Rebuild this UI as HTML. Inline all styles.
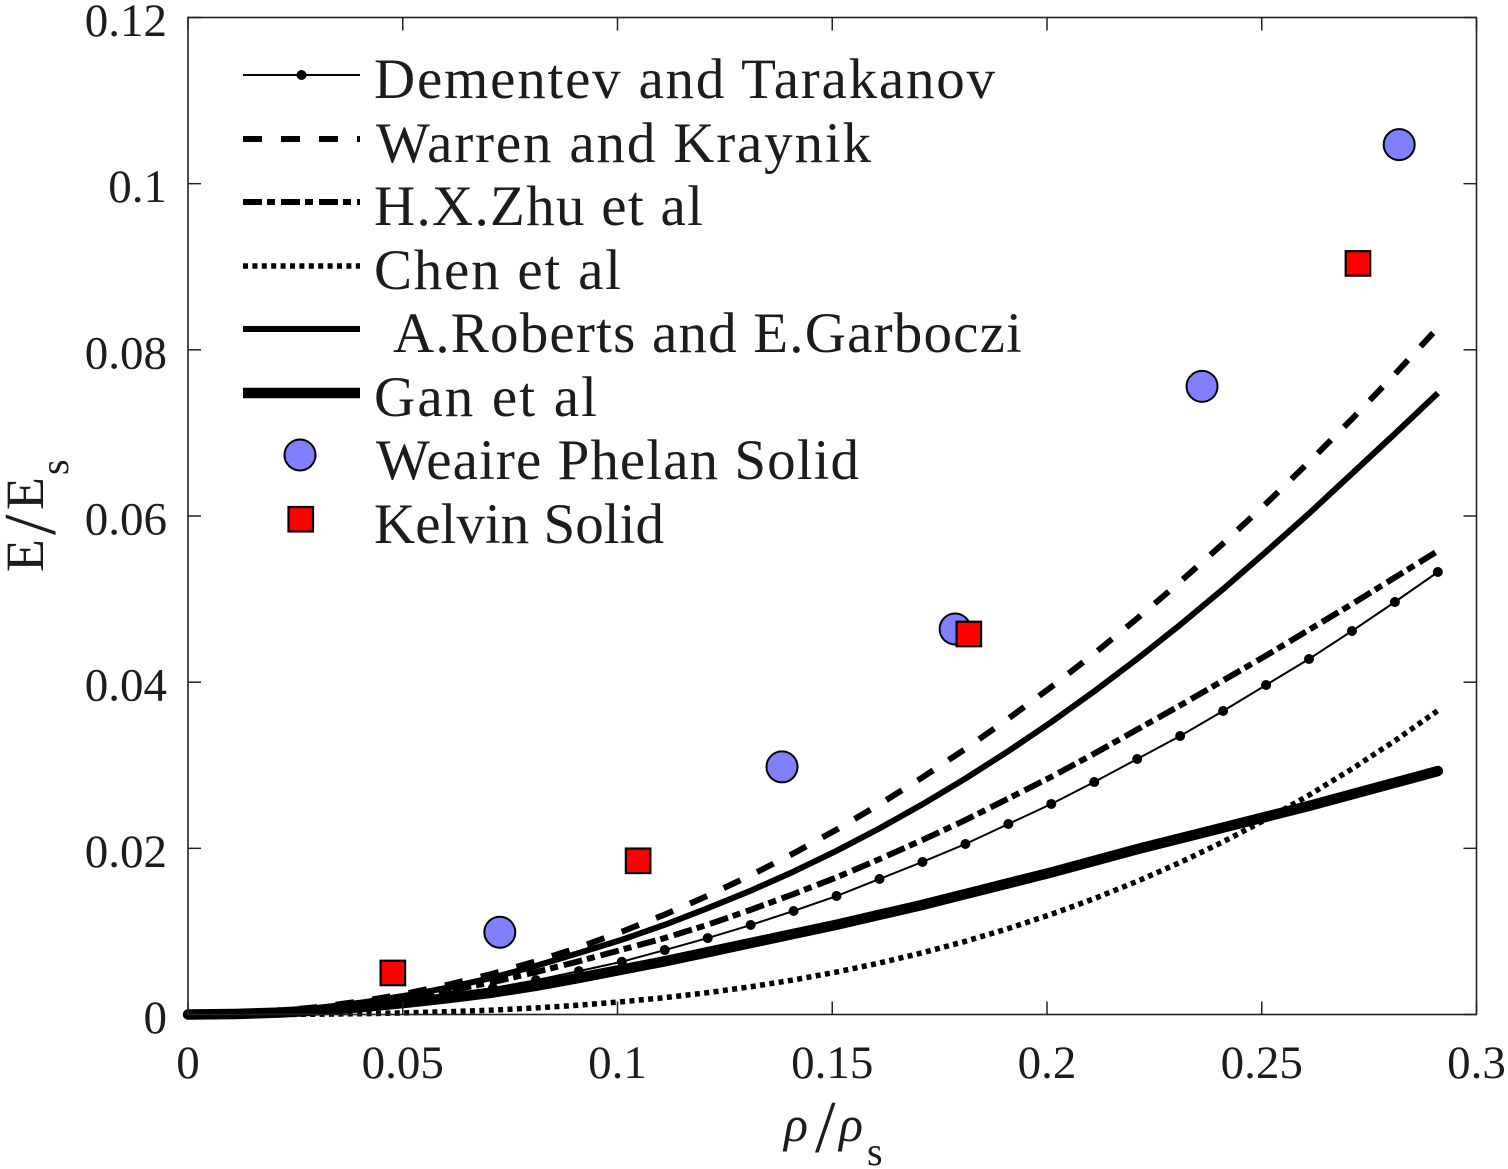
<!DOCTYPE html>
<html lang="en">
<head>
<meta charset="utf-8">
<title>Relative modulus vs relative density</title>
<style>
html,body{margin:0;padding:0;background:#fff;}
svg{display:block;}
text{font-family:"Liberation Serif",serif;fill:#1c1c1c;}
</style>
</head>
<body>
<svg id="chart" xmlns="http://www.w3.org/2000/svg" width="1508" height="1169" viewBox="0 0 1508 1169">
  <rect x="188" y="17.5" width="1288.5" height="997" fill="#fff"/>
  <g id="series-layer"></g>
  <rect x="188" y="17.5" width="1288.5" height="997" fill="none" stroke="#222" stroke-width="1.6"/>
  <g id="tick-layer"></g>

  <g transform="translate(43,572) rotate(-90)">
    <text font-size="54" x="0" y="0">E</text>
    <text font-size="74" x="37" y="12">/</text>
    <text font-size="54" x="62" y="0">E</text>
    <text font-size="40" x="97" y="25">s</text>
  </g>
  <g>
    <text font-size="50" font-style="italic" x="784" y="1141">ρ</text>
    <text font-size="74" x="815" y="1152">/</text>
    <text font-size="50" font-style="italic" x="839" y="1141">ρ</text>
    <text font-size="40" x="867" y="1165">s</text>
  </g>

  <g id="legend">
    <g>
      <line x1="243" x2="360" y1="75" y2="75" stroke="#000" stroke-width="2"/>
      <circle cx="301.5" cy="75" r="5" fill="#000"/>
      <text font-size="57" x="374" y="98" textLength="621">Dementev and Tarakanov</text>
    </g>
    <g>
      <line x1="243" x2="360" y1="139" y2="139" stroke="#000" stroke-width="6" stroke-dasharray="19,19"/>
      <text font-size="57" x="376" y="162" textLength="495">Warren and Kraynik</text>
    </g>
    <g>
      <line x1="243" x2="360" y1="202" y2="202" stroke="#000" stroke-width="6" stroke-dasharray="19,5,8,6"/>
      <text font-size="57" x="374" y="225" textLength="329">H.X.Zhu et al</text>
    </g>
    <g>
      <line x1="243" x2="360" y1="266" y2="266" stroke="#000" stroke-width="5.5" stroke-dasharray="5,4.4"/>
      <text font-size="57" x="374" y="289" textLength="247">Chen et al</text>
    </g>
    <g>
      <line x1="243" x2="360" y1="329" y2="329" stroke="#000" stroke-width="6"/>
      <text font-size="57" x="393" y="352" textLength="629">A.Roberts and E.Garboczi</text>
    </g>
    <g>
      <line x1="243" x2="360" y1="393" y2="393" stroke="#000" stroke-width="10.5"/>
      <text font-size="57" x="374" y="416" textLength="223">Gan et al</text>
    </g>
    <g>
      <circle cx="300" cy="455" r="15.5" fill="#8080ff" stroke="#000" stroke-width="2"/>
      <text font-size="57" x="376" y="479" textLength="483">Weaire Phelan Solid</text>
    </g>
    <g>
      <rect x="288.5" y="507" width="24.5" height="24.5" fill="#ff0000" stroke="#000" stroke-width="2.2"/>
      <text font-size="57" x="374" y="543" textLength="290">Kelvin Solid</text>
    </g>
  </g>
</svg>
<script>
const xTicks = [0, 0.05, 0.1, 0.15, 0.2, 0.25, 0.3];
const xTickLabels = ["0", "0.05", "0.1", "0.15", "0.2", "0.25", "0.3"];
const yTicks = [0, 0.02, 0.04, 0.06, 0.08, 0.1, 0.12];
const yTickLabels = ["0", "0.02", "0.04", "0.06", "0.08", "0.1", "0.12"];

const rho = [0, 0.011, 0.021, 0.031, 0.041, 0.051, 0.061, 0.071, 0.081, 0.091, 0.101, 0.111, 0.121, 0.131, 0.141, 0.151, 0.161, 0.171, 0.181, 0.191, 0.201, 0.211, 0.221, 0.231, 0.241, 0.251, 0.261, 0.271, 0.281, 0.291];
const dementev = [0, 0.00008, 0.00028, 0.00061, 0.00106, 0.00164, 0.00234, 0.00318, 0.00413, 0.00522, 0.00635, 0.00776, 0.0092, 0.01077, 0.01246, 0.01426, 0.01631, 0.01836, 0.02052, 0.02293, 0.02534, 0.02798, 0.03075, 0.03352, 0.03653, 0.03966, 0.04279, 0.04616, 0.04965, 0.05326];
const warren = [0, 0.00012, 0.00043, 0.00094, 0.00164, 0.00254, 0.00363, 0.00492, 0.0064, 0.00808, 0.00996, 0.01203, 0.01429, 0.01675, 0.0194, 0.02225, 0.0253, 0.02854, 0.03197, 0.03561, 0.03943, 0.04345, 0.04767, 0.05208, 0.05669, 0.06149, 0.06649, 0.07168, 0.07707, 0.08265];
const zhu = [0, 0.00009, 0.00034, 0.00075, 0.0013, 0.002, 0.0029, 0.0039, 0.0051, 0.0064, 0.0078, 0.0092, 0.0108, 0.0126, 0.0145, 0.0165, 0.0187, 0.021, 0.0234, 0.026, 0.0286, 0.0314, 0.0343, 0.0372, 0.0402, 0.0432, 0.0463, 0.0494, 0.0526, 0.0558];
const chen = [0, 0, 0.00001, 0.00004, 0.0001, 0.0002, 0.00034, 0.00053, 0.00079, 0.00112, 0.00153, 0.00203, 0.00263, 0.00334, 0.00416, 0.00511, 0.0062, 0.00743, 0.00881, 0.01035, 0.01206, 0.01395, 0.01603, 0.0183, 0.02079, 0.02348, 0.0264, 0.02956, 0.03295, 0.03659];
const roberts = [0, 0.00011, 0.00039, 0.00085, 0.00148, 0.0023, 0.00329, 0.00445, 0.00585, 0.0074, 0.009, 0.0108, 0.0128, 0.0149, 0.0172, 0.0197, 0.0224, 0.0253, 0.0284, 0.0317, 0.0352, 0.0389, 0.0428, 0.0469, 0.0512, 0.0557, 0.0603, 0.0651, 0.0699, 0.0748];
const gan = [0, 0.00006, 0.00022, 0.00052, 0.00092, 0.00142, 0.002, 0.00265, 0.00345, 0.0044, 0.0054, 0.0064, 0.0075, 0.0086, 0.0097, 0.0108, 0.012, 0.0132, 0.0145, 0.0158, 0.0171, 0.0185, 0.0199, 0.0212, 0.0225, 0.0238, 0.0251, 0.0265, 0.0279, 0.0293];

const weaireRho = [0.0726, 0.1383, 0.1786, 0.2361, 0.282];
const weaireE = [0.0099, 0.0298, 0.0464, 0.0756, 0.1047];
const kelvinRho = [0.0477, 0.1048, 0.1818, 0.2724];
const kelvinE = [0.005, 0.0185, 0.0458, 0.0904];

const NS = "http://www.w3.org/2000/svg";
const plot = {left: 188, right: 1476.5, top: 17.5, bottom: 1014.5, xMax: 0.3, yMax: 0.12};
function xScale(v) { return plot.left + (v / plot.xMax) * (plot.right - plot.left); }
function yScale(v) { return plot.bottom - (v / plot.yMax) * (plot.bottom - plot.top); }
function make(tag, attrs, parent) {
  const el = document.createElementNS(NS, tag);
  for (const k in attrs) el.setAttribute(k, attrs[k]);
  parent.appendChild(el);
  return el;
}
const seriesLayer = document.getElementById("series-layer");
const tickLayer = document.getElementById("tick-layer");

function curvePath(ys) {
  return ys.map(function (v, i) {
    return (i ? "L" : "M") + xScale(rho[i]).toFixed(2) + " " + yScale(v).toFixed(2);
  }).join(" ");
}
function drawCurve(ys, name, width, dash, cap) {
  const p = make("path", {d: curvePath(ys), fill: "none", stroke: "#000", "stroke-width": width, "stroke-linejoin": "round", "stroke-linecap": cap}, seriesLayer);
  if (dash) p.setAttribute("stroke-dasharray", dash);
  
  
}

drawCurve(dementev, "dementev-line", 2, "", "butt");
dementev.forEach(function (v, i) {
  const c = make("circle", {cx: xScale(rho[i]), cy: yScale(v), r: 5, fill: "#000"}, seriesLayer);
  
  
});
drawCurve(warren, "warren-line", 6, "18.5,18.5", "butt");
drawCurve(zhu, "zhu-line", 6, "19,5,8,6", "butt");
drawCurve(chen, "chen-line", 5.5, "5,4.4", "butt");
drawCurve(roberts, "roberts-line", 6, "", "butt");
drawCurve(gan, "gan-line", 10.5, "", "round");

weaireRho.forEach(function (v, i) {
  const c = make("circle", {cx: xScale(v), cy: yScale(weaireE[i]), r: 15.5, fill: "#8080ff", stroke: "#000", "stroke-width": 2}, seriesLayer);
  
  
});
kelvinRho.forEach(function (v, i) {
  const r = make("rect", {x: xScale(v) - 12.25, y: yScale(kelvinE[i]) - 12.25, width: 24.5, height: 24.5, fill: "#ff0000", stroke: "#000", "stroke-width": 2.2}, seriesLayer);
  
  
});

const tickLen = 13;
xTicks.forEach(function (v, i) {
  const x = xScale(v);
  const b = make("line", {x1: x, x2: x, y1: plot.bottom, y2: plot.bottom - tickLen, stroke: "#222", "stroke-width": 1.5}, tickLayer);
  
  
  const t = make("line", {x1: x, x2: x, y1: plot.top, y2: plot.top + tickLen, stroke: "#222", "stroke-width": 1.5}, tickLayer);
  
  
  const lab = make("text", {x: x, y: 1078, "font-size": 47, "text-anchor": "middle"}, tickLayer);
  lab.textContent = xTickLabels[i];
  
  
});
yTicks.forEach(function (v, i) {
  const y = yScale(v);
  const l = make("line", {x1: plot.left, x2: plot.left + tickLen, y1: y, y2: y, stroke: "#222", "stroke-width": 1.5}, tickLayer);
  
  
  const r = make("line", {x1: plot.right, x2: plot.right - tickLen, y1: y, y2: y, stroke: "#222", "stroke-width": 1.5}, tickLayer);
  
  
  const lab = make("text", {x: 167, y: y + 18.5, "font-size": 47, "text-anchor": "end"}, tickLayer);
  lab.textContent = yTickLabels[i];
  
  
});
</script>
</body>
</html>
